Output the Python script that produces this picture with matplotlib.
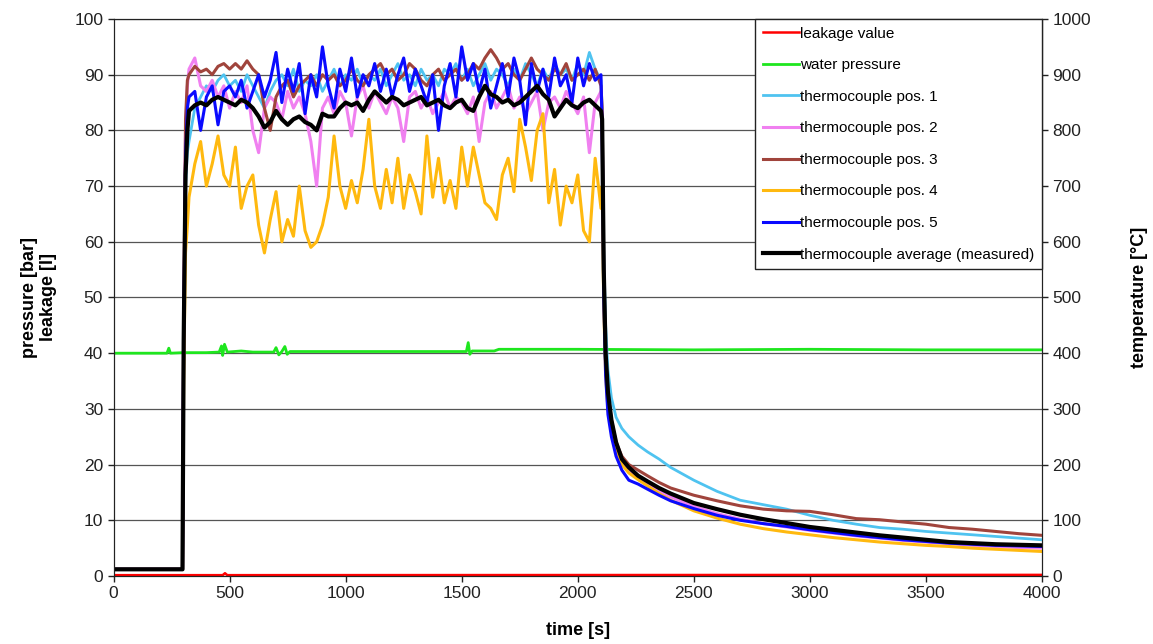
import matplotlib
matplotlib.use('Agg')
import matplotlib.pyplot as plt

plt.rcParams['font.family'] = ['Liberation Sans', 'DejaVu Sans']

# sample times [s] of the thermocouple series
time_s = [0, 100, 200, 297, 302, 310, 318,
          325, 350, 375, 400, 425, 450, 475, 500,
          525, 550, 575, 600, 625, 650, 675, 700,
          725, 750, 775, 800, 825, 850, 875, 900,
          925, 950, 975, 1000, 1025, 1050, 1075, 1100,
          1125, 1150, 1175, 1200, 1225, 1250, 1275, 1300,
          1325, 1350, 1375, 1400, 1425, 1450, 1475, 1500,
          1525, 1550, 1575, 1600, 1625, 1650, 1675, 1700,
          1725, 1750, 1775, 1800, 1825, 1850, 1875, 1900,
          1925, 1950, 1975, 2000, 2025, 2050, 2075, 2100,
          2105, 2112, 2120, 2130, 2145, 2165, 2190, 2220, 2260, 2300,
          2350, 2400, 2500, 2600, 2700, 2800, 2900, 3000, 3100, 3200,
          3300, 3400, 3500, 3600, 3700, 3800, 3900, 4000]

# temperatures [°C]
tc1 = [12, 12, 12, 12, 400, 700, 760,
       780, 840, 860, 880, 870, 890, 900, 880,
       890, 870, 900, 880, 860, 840, 870, 890,
       900, 880, 910, 870, 890, 880, 900, 870,
       890, 910, 880, 900, 890, 910, 880, 900,
       890, 910, 880, 900, 920, 890, 900, 880,
       910, 890, 900, 880, 910, 900, 920, 890,
       910, 880, 900, 920, 890, 910, 900, 880,
       910, 890, 920, 900, 880, 910, 890, 920,
       900, 910, 890, 920, 900, 940, 910, 890,
       840, 580, 450, 370, 320, 285, 265, 250, 235, 223,
       210, 195, 172, 152, 136, 128, 120, 109, 100, 93,
       87, 84, 80, 77, 74, 71, 68, 65]
tc2 = [12, 12, 12, 12, 450, 800, 880,
       910, 930, 880, 870, 890, 860, 880, 840,
       870, 850, 880, 800, 760, 840, 860, 850,
       820, 870, 840, 860, 830, 780, 700, 840,
       860, 830, 870, 850, 790, 860, 880, 840,
       870, 850, 830, 860, 840, 780, 860, 870,
       840, 860, 830, 850, 870, 840, 860, 850,
       830, 860, 780, 850, 870, 840, 860, 880,
       840, 860, 830, 850, 870, 800, 850, 860,
       840, 870, 850, 830, 860, 760, 850, 870,
       820, 520, 380, 310, 270, 230, 205, 188, 175, 164,
       152, 142, 125, 112, 102, 94, 88, 82, 77, 72,
       68, 64, 61, 58, 55, 53, 51, 50]
tc3 = [12, 12, 12, 12, 450, 820, 890,
       900, 915, 905, 910, 900, 915, 920, 910,
       920, 910, 925, 910, 900, 840, 800, 860,
       880, 890, 860, 880, 890, 900, 880, 900,
       890, 900, 880, 890, 910, 890, 880, 900,
       910, 920, 900, 910, 890, 900, 920, 910,
       890, 880, 900, 910, 890, 900, 910, 890,
       900, 920, 910, 930, 945, 930, 910, 920,
       900, 890, 910, 930, 910, 900, 890, 910,
       900, 920, 890, 900, 910, 890, 910, 880,
       840, 550, 400, 330, 280, 240, 215, 200, 190, 180,
       168, 158, 145, 135, 126, 120, 117, 116, 110, 103,
       101, 97, 93, 87, 84, 80, 76, 73]
tc4 = [12, 12, 12, 12, 350, 580, 630,
       680, 740, 780, 700, 740, 790, 720, 700,
       770, 660, 700, 720, 630, 580, 640, 690,
       600, 640, 610, 700, 620, 590, 600, 630,
       680, 790, 700, 660, 710, 670, 730, 820,
       700, 660, 730, 670, 750, 660, 720, 690,
       650, 790, 680, 750, 670, 710, 660, 770,
       700, 770, 720, 670, 660, 640, 720, 750,
       690, 820, 770, 710, 800, 830, 670, 730,
       630, 700, 670, 720, 620, 600, 750, 660,
       700, 480, 360, 300, 260, 225, 200, 185, 173, 162,
       148, 136, 117, 104, 93, 85, 79, 74, 69, 65,
       61, 58, 55, 53, 50, 48, 46, 44]
tc5 = [12, 12, 12, 12, 420, 750, 840,
       860, 870, 800, 860, 880, 810, 870, 880,
       860, 890, 840, 870, 900, 860, 890, 940,
       850, 910, 870, 920, 830, 900, 860, 950,
       880, 840, 910, 870, 930, 860, 900, 880,
       920, 870, 910, 860, 900, 930, 870, 910,
       880, 850, 900, 800, 880, 920, 860, 950,
       890, 920, 870, 910, 840, 880, 920, 860,
       930, 890, 810, 920, 870, 910, 860, 930,
       880, 900, 850, 930, 880, 920, 890, 900,
       800, 500, 360, 290, 250, 215, 190, 172, 165, 156,
       145, 135, 121, 109, 100, 94, 89, 83, 78, 73,
       69, 65, 62, 59, 57, 55, 54, 53]
tc_avg = [12, 12, 12, 12, 420, 720, 800,
          835, 845, 850, 845, 855, 860, 855, 850,
          845, 855, 850, 840, 825, 805, 815, 835,
          820, 810, 820, 825, 815, 810, 800, 830,
          825, 825, 840, 850, 845, 850, 835, 855,
          870, 860, 850, 860, 855, 845, 850, 855,
          860, 845, 850, 855, 845, 840, 850, 855,
          840, 835, 860, 880, 865, 860, 850, 855,
          845, 850, 860, 870, 880, 865, 855, 825,
          840, 855, 845, 840, 850, 855, 845, 835,
          820, 550, 400, 330, 280, 240, 210, 195, 180, 170,
          158, 148, 131, 120, 110, 102, 95, 88, 83, 78,
          73, 69, 65, 61, 59, 57, 56, 55]

# water pressure [bar]
water_t = [0, 100, 230, 238, 245, 300, 400, 455, 465, 470, 478, 490, 550, 600,
           690, 700, 712, 725, 738, 748, 760, 900, 1200, 1520, 1528, 1535, 1545,
           1640, 1660, 2000, 2500, 3000, 3500, 4000]
water_p = [40.0, 40.0, 40.0, 40.9, 40.0, 40.1, 40.1, 40.2, 41.3, 39.6, 41.6, 40.2, 40.4, 40.2,
           40.2, 41.0, 39.7, 40.3, 41.2, 39.8, 40.3, 40.3, 40.3, 40.3, 41.9, 39.8, 40.4,
           40.4, 40.7, 40.7, 40.6, 40.7, 40.6, 40.6]

# leakage [l]
leak_t = [0, 470, 480, 490, 4000]
leak_v = [0.15, 0.15, 0.5, 0.15, 0.2]

fig = plt.figure(figsize=(11.53, 6.44), dpi=100)
ax1 = fig.add_axes([0.0985, 0.1056, 0.8052, 0.8649])
ax2 = ax1.twinx()

ax1.set_xlim(0, 4000)
ax1.set_ylim(0, 100)
ax2.set_ylim(0, 1000)
ax1.set_yticks(range(0, 101, 10))
ax2.set_yticks(range(0, 1001, 100))
ax1.set_xticks(range(0, 4001, 500))
ax1.grid(axis='y', color='#555555', linewidth=0.9)
ax1.set_axisbelow(True)

l_leak, = ax1.plot(leak_t, leak_v, color='#ff0000', lw=1.8, label='leakage value')
l_water, = ax1.plot(water_t, water_p, color='#1ee61e', lw=2.0, label='water pressure')

l1, = ax2.plot(time_s, tc1, color='#4fc3f0', lw=2.0, label='thermocouple pos. 1')
l2, = ax2.plot(time_s, tc2, color='#f080f0', lw=2.2, label='thermocouple pos. 2')
l3, = ax2.plot(time_s, tc3, color='#a0443c', lw=2.2, label='thermocouple pos. 3')
l4, = ax2.plot(time_s, tc4, color='#ffb90f', lw=2.2, label='thermocouple pos. 4')
l5, = ax2.plot(time_s, tc5, color='#0a0aff', lw=2.2, label='thermocouple pos. 5')
l6, = ax2.plot(time_s, tc_avg, color='black', lw=3.0, label='thermocouple average (measured)')

for ax in (ax1, ax2):
    ax.tick_params(labelsize=12.5, length=4, width=1, direction='out', colors='#222222')
    for sp in ax.spines.values():
        sp.set_color('#222222')

ax1.set_xlabel('time [s]', fontsize=13, fontweight='bold', labelpad=15)
ax1.set_ylabel('pressure [bar]\nleakage [l]', fontsize=13, fontweight='bold', labelpad=12)
ax2.set_ylabel('temperature [°C]', fontsize=13, fontweight='bold', labelpad=29)

handles = [l_leak, l_water, l1, l2, l3, l4, l5, l6]
leg = ax2.legend(handles=handles, loc='upper right', fontsize=11, frameon=True,
                 fancybox=False, borderaxespad=0, handlelength=2.35, labelspacing=1.15,
                 borderpad=0.5, handletextpad=0.1)
leg.get_frame().set_edgecolor('#222222')
leg.get_frame().set_linewidth(1.0)
leg.get_frame().set_alpha(1.0)

fig.savefig('out.png', dpi=100)
